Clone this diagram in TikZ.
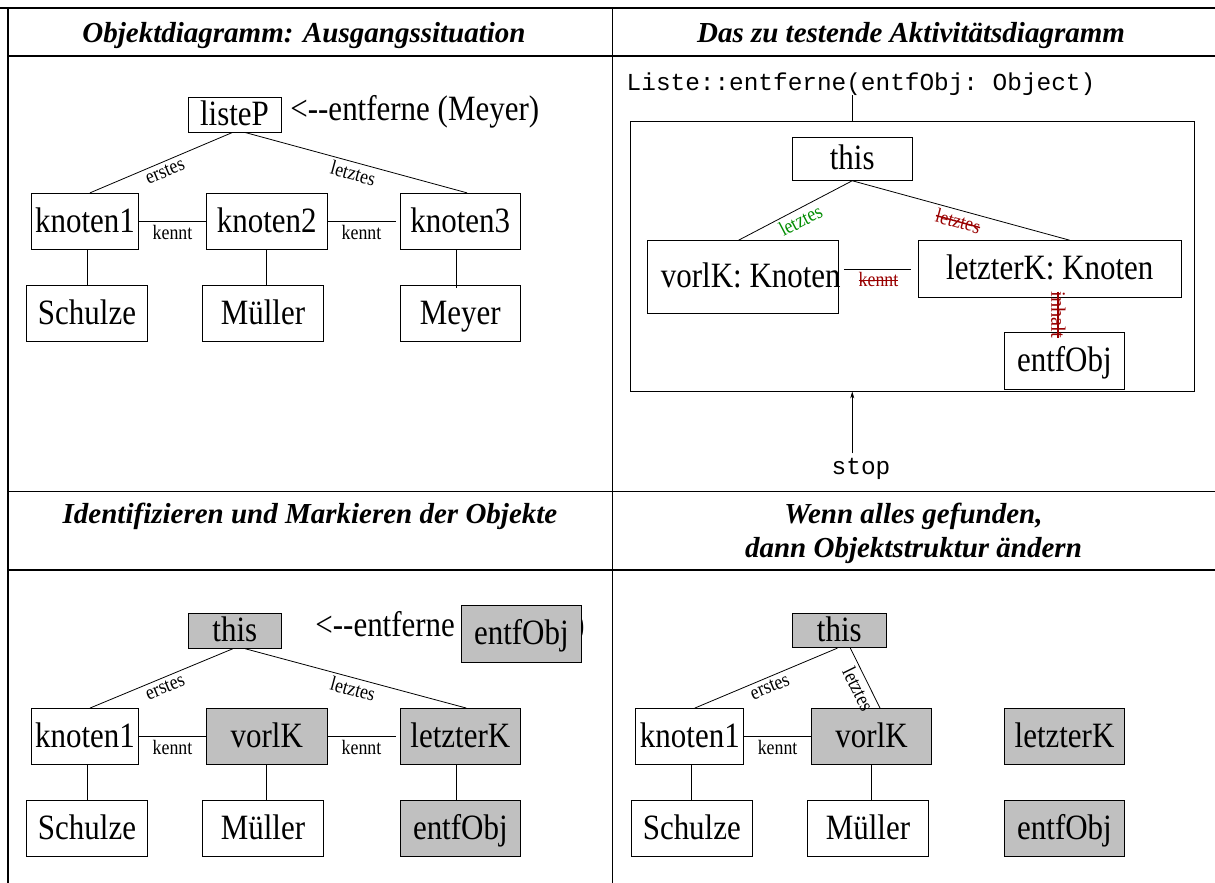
\documentclass[tikz,border=0pt]{standalone}
\usepackage{fontspec}
\setmainfont{Liberation Serif}
\setmonofont{Liberation Mono}
\newfontfamily\tallfont[FakeStretch=0.87]{Liberation Serif}
\usetikzlibrary{arrows.meta}
\definecolor{markgray}{RGB}{192,192,192}
\definecolor{okgreen}{RGB}{0,140,0}
\definecolor{delred}{RGB}{153,0,0}
\newsavebox{\strikebox}
\newcommand{\struck}[1]{\sbox{\strikebox}{#1}\rlap{\rule[0.28em]{\wd\strikebox}{0.07em}}\usebox{\strikebox}}
\tikzset{
    obj/.style={draw, line width=0.9pt, fill=white, inner sep=0pt, minimum width=120.5pt,
        minimum height=56pt, text height=21.4pt, text depth=0pt, font=\tallfont\fontsize{35.6}{40}\selectfont},
    marked/.style={obj, fill=markgray},
    call/.style={anchor=base west, inner sep=0pt, font=\tallfont\fontsize{35.6}{40}\selectfont},
    rel/.style={font=\tallfont\fontsize{20.5}{23}\selectfont},
    head/.style={font=\fontsize{29}{34}\selectfont\bfseries\itshape, align=center},
    mono/.style={anchor=base, inner sep=0pt, font=\fontsize{24.4}{28}\selectfont\ttfamily},
    tabline/.style={line width=1.2pt}
}
\begin{document}
\begin{tikzpicture}[x=1pt,y=-1pt,line width=0.8pt]
\useasboundingbox (0,0) rectangle (1215,883);
% table
\draw[line width=1.8pt] (0,8) -- (1215,8);
\draw[tabline] (8,8) -- (8,883);
\draw[tabline] (612.5,8) -- (612.5,883);
\draw[tabline] (8,56) -- (1215,56);
\draw[tabline] (8,491.5) -- (1215,491.5);
\draw[tabline] (8,570) -- (1215,570);

% headings
\node[head, anchor=base] (h1) at (304,42.7) {Objektdiagramm: Ausgangssituation};
\node[head, anchor=base] (h2) at (911,42.7) {Das zu testende Aktivitätsdiagramm};
\node[head, anchor=base] (h3) at (310,523.5) {Identifizieren und Markieren der Objekte};
\node[head] (h4) at (913.5,533.3) {Wenn alles gefunden,\\dann Objektstruktur ändern};

% Ausgangssituation
\node[obj, minimum width=93pt, minimum height=34.3pt] (listeP) at (234.5,114.85) {listeP};
\node[call] (callA) at (290,120) {<-{}-entferne (Meyer)};
\node[obj, minimum width=107pt] (kn1) at (85,221.3) {knoten1};
\node[obj] (kn2) at (266.8,221.3) {knoten2};
\node[obj] (kn3) at (460.3,221.3) {knoten3};
\node[obj, minimum width=121pt] (schulze) at (87,313.3) {Schulze};
\node[obj] (mueller) at (263,313.3) {Müller};
\node[obj] (meyer) at (460.3,313.3) {Meyer};
\draw ([xshift=-2pt]listeP.south) -- node[rel, sloped, below] {erstes} ([xshift=5pt]kn1.north);
\draw ([xshift=10.5pt]listeP.south) -- node[rel, sloped, below] {letztes} ([xshift=6.7pt]kn3.north);
\draw (kn1) -- node[rel, below] {kennt} (kn2);
\draw (kn2) -- node[rel, below] {kennt} ([xshift=-4pt]kn3.west);
\draw (schulze.north) -- (schulze.north |- kn1.south);
\draw (kn2.south) -- (kn2.south |- mueller.north);
\draw ([xshift=-4pt]kn3.south) -- ([xshift=-4pt,yshift=-3pt]kn3.south |- meyer.north);

% Aktivitaetsdiagramm
\node[draw, inner sep=0pt, minimum width=563.6pt, minimum height=270pt] (act) at (912.2,256) {};
\node[mono] (sig) at (861,90) {Liste::entferne(entfObj: Object)};
\node[obj, minimum width=119.5pt, minimum height=43pt] (this) at (852.25,158.8) {this};
\node[obj, minimum width=191pt, minimum height=72.6pt] (vorlK) at (742.9,277) {\makebox[164pt][l]{vorlK: Knoten}};
\node[obj, minimum width=262.4pt, minimum height=56.6pt] (letzterK) at (1049.8,269) {letzterK: Knoten};
\node[obj, minimum width=120.7pt, minimum height=56.6pt] (entfObj) at (1064.35,361) {entfObj};
\node[mono] (stop) at (861,474) {stop};
\draw (sig.south -| this) -- (act.north -| this);
\draw[-{Stealth[length=7pt,width=4pt]}, shorten <=4pt] (stop.north -| this) -- (act.south -| this);
\draw (this.south) -- node[rel, sloped, below, text=okgreen] {letztes} ([xshift=-4.4pt]vorlK.north);
\draw (this.south) -- node[rel, sloped, below, text=delred] {\struck{letztes}} ([xshift=20pt]letzterK.north);
\draw[shorten <=5pt, shorten >=7pt] (vorlK.east |- letzterK.west) -- node[rel, below, text=delred] {\struck{kennt}} (letzterK.west);
\draw ([xshift=-6pt]entfObj.north) -- node[rel, font=\fontsize{20.5}{23}\selectfont, rotate=-90, text=delred] {\struck{inhalt}} ([xshift=-6pt]entfObj.north |- letzterK.south);

% Identifizieren und Markieren
\node[marked, minimum width=93pt, minimum height=35pt] (thisB) at (234.8,630.8) {this};
\node[call] (callB) at (315,636) {<-{}-entferne};
\node[call] (closeB) at (574,636) {)};
\node[marked, minimum width=120.7pt, minimum height=56.6pt] (argB) at (521.35,634) {entfObj};
\node[obj, minimum width=107pt] (knB) at (85,736.5) {knoten1};
\node[marked] (vorlB) at (266.8,736.5) {vorlK};
\node[marked] (letztB) at (460.3,736.5) {letzterK};
\node[obj, minimum width=121pt] (schulzeB) at (87,828.3) {Schulze};
\node[obj] (muellerB) at (263,828.3) {Müller};
\node[marked] (entfB) at (460.3,828.3) {entfObj};
\draw ([xshift=-2pt]thisB.south) -- node[rel, sloped, below] {erstes} ([xshift=5pt]knB.north);
\draw ([xshift=10.5pt]thisB.south) -- node[rel, sloped, below] {letztes} ([xshift=6pt]letztB.north);
\draw (knB) -- node[rel, below] {kennt} (vorlB);
\draw (vorlB) -- node[rel, below] {kennt} ([xshift=-4pt]letztB.west);
\draw (schulzeB.north) -- (schulzeB.north |- knB.south);
\draw (vorlB.south) -- (vorlB.south |- muellerB.north);
\draw ([xshift=-4pt]letztB.south) -- ([xshift=-4pt]letztB.south |- entfB.north);

% Objektstruktur aendern
\node[marked, minimum width=93.7pt, minimum height=34.4pt] (thisC) at (839.35,630.5) {this};
\node[obj, minimum width=108.1pt] (knC) at (689.85,736.5) {knoten1};
\node[marked] (vorlC) at (871.6,736.5) {vorlK};
\node[marked] (letztC) at (1064.5,736.5) {letzterK};
\node[obj, minimum width=121.2pt] (schulzeC) at (691.8,828.7) {Schulze};
\node[obj] (muellerC) at (867.9,828.7) {Müller};
\node[marked] (entfC) at (1064.5,828.7) {entfObj};
\draw ([xshift=-2pt]thisC.south) -- node[rel, sloped, below] {erstes} ([xshift=5pt]knC.north);
\draw ([xshift=11pt]thisC.south) -- node[rel, sloped, below, pos=0.6] {letztes} ([xshift=8.4pt]vorlC.north);
\draw (knC) -- node[rel, below] {kennt} (vorlC);
\draw (schulzeC.north) -- (schulzeC.north |- knC.south);
\draw (vorlC.south) -- (vorlC.south |- muellerC.north);
\end{tikzpicture}
\end{document}
